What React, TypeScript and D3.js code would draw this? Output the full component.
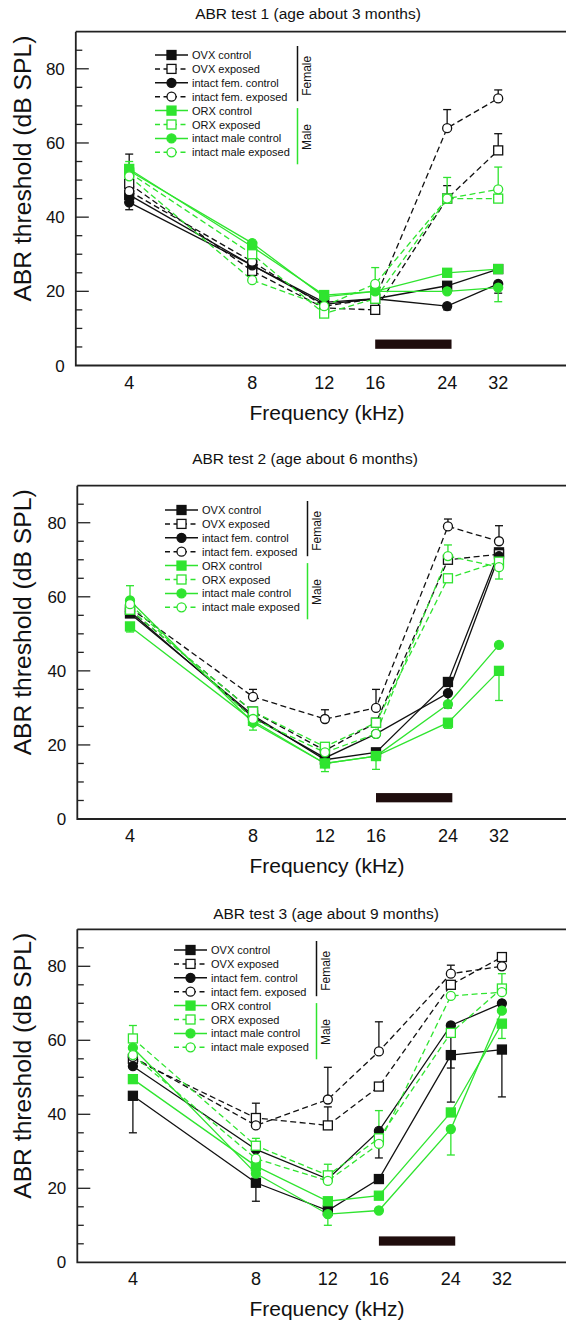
import React from 'react'
import * as d3 from 'd3'

// frequencies (kHz) and axis ticks
const freqs = [4, 8, 12, 16, 24, 32]
const freqTicks = [4, 8, 12, 16, 24, 32]
const yMajor = [0, 20, 40, 60, 80]
const yMinor = [5, 10, 15, 25, 30, 35, 45, 50, 55, 65, 70, 75, 85]
const noiseBand = [16, 24.6]
const noiseLevel = [4.5, 7]

const titles = [
  'ABR test 1  (age about 3 months)',
  'ABR test 2 (age about 6 months)',
  'ABR test 3 (age about 9 months)',
]

const seriesNames = [
  'OVX control',
  'OVX exposed',
  'intact fem. control',
  'intact fem. exposed',
  'ORX control',
  'ORX exposed',
  'intact male control',
  'intact male exposed',
]

// order: OVX ctl, OVX exp, fem ctl, fem exp, ORX ctl, ORX exp, male ctl, male exp
const test1Values = [
  [46, 27, 17, 18, 21.5, 26],
  [49, 25.5, 15.5, 15, 45, 58],
  [44, 27, 16.5, 18, 16, 22],
  [47, 28, 16, 18, 64, 72],
  [53, 32, 19, 20, 25, 26],
  [52, 30, 14, 18, 45, 45],
  [52.5, 33, 18.5, 20, 20, 21],
  [51, 23, 16, 22, 45, 47.5],
]
// signed error bars: + drawn upward, - drawn downward, 0 none
const test1Errors = [
  [0, 0, 0, 0, 0, 0],
  [8, 0, 0, 0, 3.5, 4.5],
  [-2, 0, 0, 0, -1, -2.5],
  [0, 0, 0, 0, 5, 2.3],
  [2, 0, 0, 0, 0, 0],
  [0, 0, 0, 0, 0, 0],
  [0, 0, 0, 0, 0, -3.8],
  [0, 0, 0, 4.4, 5.7, 6],
]

const test2Values = [
  [55.5, 28, 16, 18, 37, 72],
  [56.5, 29, 18.5, 26, 70, 71.5],
  [56, 27.5, 16.5, 23, 34, 71],
  [57, 33, 27, 30, 79, 75],
  [52, 26.5, 15, 17, 26, 40],
  [56.5, 29, 19.5, 26, 65, 69.5],
  [59, 26, 15, 17, 31, 47],
  [58, 27, 18, 23, 71, 68],
]
const test2Errors = [
  [0, 0, 0, 0, 0, 0],
  [0, 0, 0, 0, 0, 0],
  [0, 0, 0, 0, -4, 0],
  [0, 2, 2.5, 5, 2, 4.2],
  [-1.5, 0, 0, 0, -1.5, -8],
  [0, 0, 0, 0, 0, 0],
  [4, -2, -2.2, -3.6, 0, 0],
  [0, 0, 0, 0, 3, -3.2],
]

const test3Values = [
  [45, 21.5, 14, 22.5, 56, 57.5],
  [55, 39, 37, 47.5, 75, 82.5],
  [53, 30.5, 22.5, 35.5, 64, 70],
  [55.5, 37, 44, 57, 78, 80],
  [49.5, 26, 16.5, 18, 40.5, 64.5],
  [60.5, 31.5, 23.5, 33.5, 62, 74],
  [58, 24, 13, 14, 36, 68],
  [56, 28, 22, 32, 72, 73],
]
const test3Errors = [
  [-10, -5, 0, 0, -12.7, -12.8],
  [0, 4, 5, 0, 0, 1],
  [0, 0, 0, -7.3, -11.5, 0],
  [0, 0, 8.7, 8, 2.3, 0],
  [0, 0, 0, 0, 0, -4],
  [3.5, 2, 3, 0, 0, 0],
  [0, 0, -3, 0, -7, 0],
  [0, 0, 0, 9, 0, 5],
]

const W = 566
const H = 1326
const FONT = '"Liberation Sans", Arial, Helvetica, sans-serif'
const BLACK = '#111111'
const GREEN = '#2fe42f'
const OCTAVE = 123

const seriesStyle = seriesNames.map((_, i) => ({
  color: i < 4 ? BLACK : GREEN,
  shape: i % 4 < 2 ? 'square' : 'circle',
  filled: i % 2 === 0,
  dashed: i % 2 === 1,
}))

const panels = [
  { title: titles[0], values: test1Values, errors: test1Errors, top: 31.7, bottom: 365.5, left: 75.8, x4: 129.2, titleX: 308, titleY: 18.5, legX: 155, legY: 55 },
  { title: titles[1], values: test2Values, errors: test2Errors, top: 485.7, bottom: 819, left: 77.3, x4: 130, titleX: 305, titleY: 463.5, legX: 165, legY: 510 },
  { title: titles[2], values: test3Values, errors: test3Errors, top: 929.3, bottom: 1262.3, left: 77.3, x4: 132.9, titleX: 326, titleY: 918.5, legX: 174, legY: 950 },
]

function Marker({ x, y, st, size = 9 }) {
  const fill = st.filled ? st.color : '#ffffff'
  if (st.shape === 'square') {
    return <rect x={x - size / 2} y={y - size / 2} width={size} height={size} fill={fill} stroke={st.color} strokeWidth={1.3} />
  }
  return <circle cx={x} cy={y} r={size / 2} fill={fill} stroke={st.color} strokeWidth={1.3} />
}

function Panel({ p }) {
  const x = d3.scaleLog().base(2)
    .domain([4 * Math.pow(2, (p.left - p.x4) / OCTAVE), 4 * Math.pow(2, (W - p.x4) / OCTAVE)])
    .range([p.left, W])
  const y = d3.scaleLinear().domain([0, 90]).range([p.bottom, p.top])
  const line = d3.line<number>().x((_, i) => x(freqs[i])).y((v) => y(v))
  const midY = (p.top + p.bottom) / 2
  const rowH = 13.9

  return (
    <g>
      <text x={p.titleX} y={p.titleY} textAnchor="middle" fontSize={15.5} fontFamily={FONT} fill={BLACK}>{p.title}</text>

      {/* frame: top border and axes */}
      <path d={`M${p.left},${p.top}H${W}M${p.left},${p.top}V${p.bottom}H${W}`} fill="none" stroke="#222" strokeWidth={1.8} />

      {yMajor.map((t) => (
        <g key={'M' + t}>
          {t > 0 && <line x1={p.left} x2={p.left + 13} y1={y(t)} y2={y(t)} stroke="#222" strokeWidth={1.3} />}
          <text x={p.left - 11} y={y(t) + 6} textAnchor="end" fontSize={17} fontFamily={FONT} fill={BLACK}>{t}</text>
        </g>
      ))}
      {yMinor.map((t) => (
        <line key={'m' + t} x1={p.left} x2={p.left + 6.5} y1={y(t)} y2={y(t)} stroke="#222" strokeWidth={1.3} />
      ))}

      {freqTicks.map((f) => (
        <text key={f} x={x(f)} y={p.bottom + 23} textAnchor="middle" fontSize={18} fontFamily={FONT} fill={BLACK}>{f}</text>
      ))}
      <text x={327} y={p.bottom + 54} textAnchor="middle" fontSize={21} fontFamily={FONT} fill={BLACK}>Frequency (kHz)</text>
      <text transform={`translate(31,${midY - 30}) rotate(-90)`} textAnchor="middle" fontSize={23}
        textLength={266} lengthAdjust="spacingAndGlyphs" fontFamily={FONT} fill={BLACK}>ABR threshold (dB SPL)</text>

      <rect x={x(noiseBand[0])} width={x(noiseBand[1]) - x(noiseBand[0])} y={y(noiseLevel[1])} height={y(noiseLevel[0]) - y(noiseLevel[1])} fill="#1f0d0d" />

      {p.values.map((vals, i) => (
        <path key={'l' + i} d={line(vals)} fill="none" stroke={seriesStyle[i].color} strokeWidth={1.3}
          strokeDasharray={seriesStyle[i].dashed ? '6,3.5' : null} />
      ))}

      {p.errors.map((errs, i) => errs.map((e, j) => {
        if (!e) return null
        const v = p.values[i][j]
        const c = seriesStyle[i].color
        return (
          <g key={`e${i}-${j}`} stroke={c} strokeWidth={1.3}>
            <line x1={x(freqs[j])} x2={x(freqs[j])} y1={y(v)} y2={y(v + e)} />
            <line x1={x(freqs[j]) - 4} x2={x(freqs[j]) + 4} y1={y(v + e)} y2={y(v + e)} />
          </g>
        )
      }))}

      {p.values.map((vals, i) => vals.map((v, j) => (
        <Marker key={`p${i}-${j}`} x={x(freqs[j])} y={y(v)} st={seriesStyle[i]} />
      )))}

      {/* legend */}
      {seriesNames.map((name, i) => {
        const st = seriesStyle[i]
        const ry = p.legY + i * rowH
        return (
          <g key={'lg' + i}>
            <line x1={p.legX} x2={p.legX + 33} y1={ry} y2={ry} stroke={st.color} strokeWidth={1.5}
              strokeDasharray={st.dashed ? '5,3.5' : null} />
            <Marker x={p.legX + 16.5} y={ry} st={st} size={9} />
            <text x={p.legX + 37} y={ry + 4} fontSize={11} fontFamily={FONT} fill={BLACK}>{name}</text>
          </g>
        )
      })}
      <line x1={p.legX + 142.5} x2={p.legX + 142.5} y1={p.legY - 9} y2={p.legY + 3 * rowH + 4.5} stroke={BLACK} strokeWidth={1.5} />
      <text transform={`translate(${p.legX + 156},${p.legY + 1.5 * rowH}) rotate(-90)`} textAnchor="middle" fontSize={12} fontFamily={FONT} fill={BLACK}>Female</text>
      <line x1={p.legX + 142.5} x2={p.legX + 142.5} y1={p.legY + 4 * rowH - 2.5} y2={p.legY + 7 * rowH + 12} stroke={GREEN} strokeWidth={1.5} />
      <text transform={`translate(${p.legX + 156},${p.legY + 5.9 * rowH}) rotate(-90)`} textAnchor="middle" fontSize={12} fontFamily={FONT} fill={BLACK}>Male</text>
    </g>
  )
}

export default function App() {
  return (
    <svg width={W} height={H} style={{ position: 'absolute', left: 0, top: 0, background: '#fff' }}>
      <rect width={W} height={H} fill="#fff" />
      {panels.map((p, i) => <Panel key={i} p={p} />)}
    </svg>
  )
}
